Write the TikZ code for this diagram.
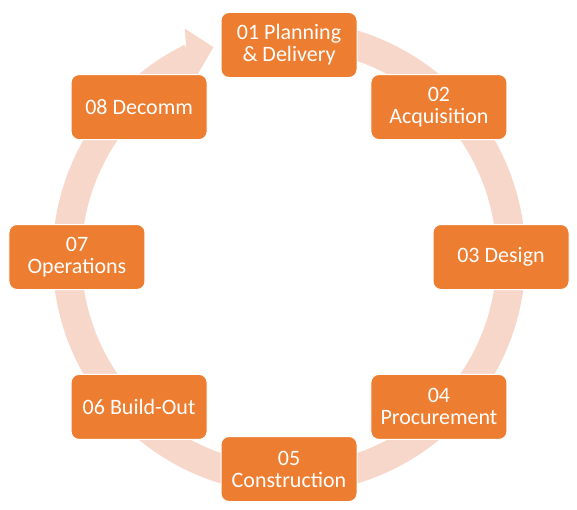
\documentclass[tikz,border=0pt]{standalone}
\usepackage{fontspec}
\setmainfont{Carlito}
\usepackage{tikz}
\usepackage{xcolor}
\definecolor{phaseorange}{HTML}{ED7D31}
\definecolor{ringtint}{HTML}{F8D7CB}
\tikzstyle{phasebox} = [draw=white, line width=1pt, fill=phaseorange, rectangle, rounded corners=8pt, minimum width=136pt, minimum height=65pt, inner sep=2pt, align=center, text=white, font=\fontsize{22}{22}\selectfont]
\tikzstyle{cyclering} = [draw=ringtint, line width=29pt]

\begin{document}
\begin{tikzpicture}[x=1pt,y=1pt]
\useasboundingbox (-289,-252) rectangle (288,257);
% ring with arrow head
\draw[cyclering] (100:222) arc[start angle=100, end angle=-243.8, radius=222];
\fill[ringtint] (114.5:251) -- (109.8:223) -- (121:195) -- cycle;
% phases
\node[phasebox] (plan)   at (90:212)  {01 Planning\\\& Delivery};
\node[phasebox] (acq)    at (45:212)  {02\\Acquisition};
\node[phasebox] (design) at (0:212)   {03 Design};
\node[phasebox] (proc)   at (-45:212) {04\\Procurement};
\node[phasebox] (constr) at (-90:212) {05\\Construction};
\node[phasebox] (build)  at (-135:212) {06 Build-Out};
\node[phasebox] (ops)    at (180:212) {07\\Operations};
\node[phasebox] (decomm) at (135:212) {08 Decomm};
\end{tikzpicture}
\end{document}
